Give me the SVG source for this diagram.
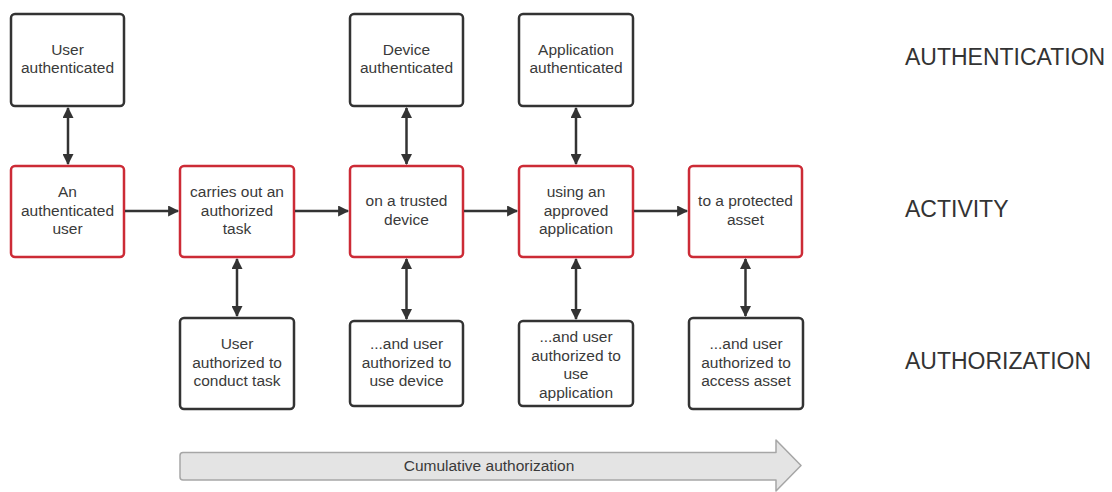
<svg xmlns="http://www.w3.org/2000/svg" width="1112" height="492" viewBox="0 0 1112 492">
  <style>
    .box { fill: #ffffff; stroke: #333333; stroke-width: 2.5; }
    .act { fill: #ffffff; stroke: #cc2b36; stroke-width: 2.5; }
    .lbl { font-family: "Liberation Sans", Arial, sans-serif; font-size: 15.5px; fill: #3a3a3a; text-anchor: middle; }
    .row { font-family: "Liberation Sans", Arial, sans-serif; font-size: 23px; fill: #333333; }
    .conn { stroke: #333333; stroke-width: 2.5; fill: none; }
  </style>
  <defs>
    <marker id="head" viewBox="0 0 10 10" refX="9" refY="5" markerWidth="12" markerHeight="11" markerUnits="userSpaceOnUse" orient="auto-start-reverse">
      <path d="M0,0 L10,5 L0,10 z" fill="#333333"/>
    </marker>
  </defs>
  <rect width="1112" height="492" fill="#ffffff"/>

  <!-- Authentication row -->
  <g id="user-authenticated">
    <rect class="box" x="11" y="14" width="113" height="92" rx="4"/>
    <text class="lbl" x="67.5" y="54.5">User</text>
    <text class="lbl" x="67.5" y="73">authenticated</text>
  </g>
  <g id="device-authenticated">
    <rect class="box" x="350" y="14" width="113" height="92" rx="4"/>
    <text class="lbl" x="406.5" y="54.5">Device</text>
    <text class="lbl" x="406.5" y="73">authenticated</text>
  </g>
  <g id="application-authenticated">
    <rect class="box" x="519" y="14" width="114" height="92" rx="4"/>
    <text class="lbl" x="576" y="54.5">Application</text>
    <text class="lbl" x="576" y="73">authenticated</text>
  </g>

  <!-- Activity row -->
  <g id="authenticated-user">
    <rect class="act" x="11" y="166" width="113" height="91" rx="4"/>
    <text class="lbl" x="67.5" y="197">An</text>
    <text class="lbl" x="67.5" y="215.5">authenticated</text>
    <text class="lbl" x="67.5" y="234">user</text>
  </g>
  <g id="authorized-task">
    <rect class="act" x="180" y="166" width="114" height="91" rx="4"/>
    <text class="lbl" x="237" y="197">carries out an</text>
    <text class="lbl" x="237" y="215.5">authorized</text>
    <text class="lbl" x="237" y="234">task</text>
  </g>
  <g id="trusted-device">
    <rect class="act" x="350" y="166" width="113" height="91" rx="4"/>
    <text class="lbl" x="406.5" y="206">on a trusted</text>
    <text class="lbl" x="406.5" y="224.5">device</text>
  </g>
  <g id="approved-application">
    <rect class="act" x="519" y="166" width="114" height="91" rx="4"/>
    <text class="lbl" x="576" y="197">using an</text>
    <text class="lbl" x="576" y="215.5">approved</text>
    <text class="lbl" x="576" y="234">application</text>
  </g>
  <g id="protected-asset">
    <rect class="act" x="689" y="166" width="113" height="91" rx="4"/>
    <text class="lbl" x="745.5" y="206">to a protected</text>
    <text class="lbl" x="745.5" y="224.5">asset</text>
  </g>

  <!-- Authorization row -->
  <g id="task-authorization">
    <rect class="box" x="180" y="318" width="114" height="91" rx="4"/>
    <text class="lbl" x="237" y="349">User</text>
    <text class="lbl" x="237" y="367.5">authorized to</text>
    <text class="lbl" x="237" y="386">conduct task</text>
  </g>
  <g id="device-authorization">
    <rect class="box" x="350" y="321" width="113" height="85" rx="4"/>
    <text class="lbl" x="406.5" y="349">...and user</text>
    <text class="lbl" x="406.5" y="367.5">authorized to</text>
    <text class="lbl" x="406.5" y="386">use device</text>
  </g>
  <g id="application-authorization">
    <rect class="box" x="519" y="321" width="114" height="85" rx="4"/>
    <text class="lbl" x="576" y="342">...and user</text>
    <text class="lbl" x="576" y="360.5">authorized to</text>
    <text class="lbl" x="576" y="379">use</text>
    <text class="lbl" x="576" y="397.5">application</text>
  </g>
  <g id="asset-authorization">
    <rect class="box" x="689" y="318" width="114" height="91" rx="4"/>
    <text class="lbl" x="746" y="349">...and user</text>
    <text class="lbl" x="746" y="367.5">authorized to</text>
    <text class="lbl" x="746" y="386">access asset</text>
  </g>

  <!-- Connectors -->
  <g id="connectors">
    <!-- authentication to activity -->
    <line class="conn" x1="68" y1="108" x2="68" y2="164" marker-start="url(#head)" marker-end="url(#head)"/>
    <line class="conn" x1="406.5" y1="108" x2="406.5" y2="164" marker-start="url(#head)" marker-end="url(#head)"/>
    <line class="conn" x1="576" y1="108" x2="576" y2="164" marker-start="url(#head)" marker-end="url(#head)"/>
    <!-- activity chain -->
    <line class="conn" x1="125" y1="211" x2="178" y2="211" marker-end="url(#head)"/>
    <line class="conn" x1="295" y1="211" x2="348" y2="211" marker-end="url(#head)"/>
    <line class="conn" x1="464" y1="211" x2="517" y2="211" marker-end="url(#head)"/>
    <line class="conn" x1="634" y1="211" x2="687" y2="211" marker-end="url(#head)"/>
    <!-- activity to authorization -->
    <line class="conn" x1="237" y1="259" x2="237" y2="316" marker-start="url(#head)" marker-end="url(#head)"/>
    <line class="conn" x1="406.5" y1="259" x2="406.5" y2="319" marker-start="url(#head)" marker-end="url(#head)"/>
    <line class="conn" x1="576" y1="259" x2="576" y2="319" marker-start="url(#head)" marker-end="url(#head)"/>
    <line class="conn" x1="745.5" y1="259" x2="745.5" y2="316" marker-start="url(#head)" marker-end="url(#head)"/>
  </g>

  <!-- Row labels -->
  <g id="row-labels">
    <text class="row" x="905" y="65">AUTHENTICATION</text>
    <text class="row" x="905" y="217">ACTIVITY</text>
    <text class="row" x="905" y="369">AUTHORIZATION</text>
  </g>

  <!-- Cumulative authorization arrow -->
  <g id="cumulative-authorization">
    <path d="M183,452.5 L776,452.5 L776,440 L801,465.5 L776,491 L776,480 L183,480 Q180,480 180,477 L180,455.5 Q180,452.5 183,452.5 z" fill="#e4e4e4" stroke="#a6a6a6" stroke-width="1.5" stroke-linejoin="round"/>
    <text class="lbl" x="489" y="470.5">Cumulative authorization</text>
  </g>
</svg>
